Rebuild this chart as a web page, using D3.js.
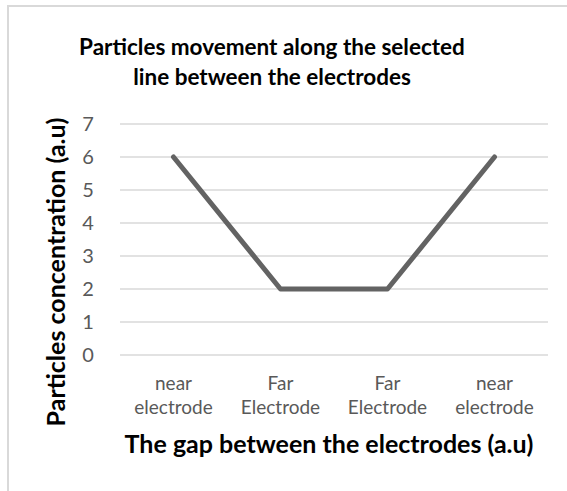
<!DOCTYPE html>
<html>
<head>
<meta charset="utf-8">
<script src="https://cdnjs.cloudflare.com/ajax/libs/d3/7.8.5/d3.min.js"></script>
<style>
  body { margin: 0; background: #fff; }
  text { font-family: Lato, "Open Sans", sans-serif; }
</style>
</head>
<body>
<div id="chart"></div>
<script>
const width = 567, height = 491;

// data
const categories = [["near", "electrode"], ["Far", "Electrode"], ["Far", "Electrode"], ["near", "electrode"]];
const values = [6, 2, 2, 6];
const yTicks = [0, 1, 2, 3, 4, 5, 6, 7];
const titleLines = ["Particles movement along the selected", "line between the electrodes"];
const xTitle = "The gap between the electrodes (a.u)";
const yTitle = "Particles concentration  (a.u)";

const svg = d3.select("#chart").append("svg")
    .attr("width", width).attr("height", height);

// outer chart border (runs off the right and bottom edge)
svg.append("rect")
    .attr("x", 8).attr("y", 6)
    .attr("width", 600).attr("height", 600)
    .attr("fill", "#fff")
    .attr("stroke", "#d9d9d9")
    .attr("stroke-width", 2);

const plot = { left: 120, right: 548, top: 124, bottom: 355 };

const x = d3.scalePoint()
    .domain(d3.range(values.length))
    .range([plot.left, plot.right])
    .padding(0.5);

const y = d3.scaleLinear().domain([0, 7]).range([plot.bottom, plot.top]);

// gridlines
svg.append("g")
    .selectAll("line")
    .data(yTicks)
    .enter().append("line")
    .attr("x1", plot.left).attr("x2", plot.right)
    .attr("y1", d => y(d)).attr("y2", d => y(d))
    .attr("stroke", "#d9d9d9")
    .attr("stroke-width", 1.5);

// y tick labels
svg.append("g")
    .selectAll("text")
    .data(yTicks)
    .enter().append("text")
    .attr("x", 88)
    .attr("y", d => y(d))
    .attr("dy", "0.36em")
    .attr("text-anchor", "middle")
    .attr("fill", "#595959")
    .style("font-size", "20px")
    .text(d => d);

// category labels
const cat = svg.append("g")
    .selectAll("text")
    .data(categories)
    .enter().append("text")
    .attr("text-anchor", "middle")
    .attr("fill", "#595959")
    .style("font-size", "19px");

cat.append("tspan")
    .attr("x", (d, i) => x(i))
    .attr("y", 390)
    .text(d => d[0]);
cat.append("tspan")
    .attr("x", (d, i) => x(i))
    .attr("y", 414)
    .text(d => d[1]);

// the line
const line = d3.line()
    .x((d, i) => x(i))
    .y(d => y(d));

svg.append("path")
    .datum(values)
    .attr("d", line)
    .attr("fill", "none")
    .attr("stroke", "#636363")
    .attr("stroke-width", 5)
    .attr("stroke-linecap", "round")
    .attr("stroke-linejoin", "round");

// chart title
svg.append("g")
    .selectAll("text")
    .data(titleLines)
    .enter().append("text")
    .attr("x", 272)
    .attr("y", (d, i) => 55 + i * 30)
    .attr("text-anchor", "middle")
    .attr("fill", "#000")
    .style("font-size", "22.5px")
    .style("font-weight", "bold")
    .text(d => d);

// axis titles
svg.append("text")
    .attr("x", 329).attr("y", 453)
    .attr("text-anchor", "middle")
    .attr("fill", "#000")
    .style("font-size", "25px")
    .style("font-weight", "bold")
    .text(xTitle);

svg.append("text")
    .attr("transform", "translate(65, 272) rotate(-90)")
    .attr("text-anchor", "middle")
    .attr("fill", "#000")
    .style("font-size", "25px")
    .style("font-weight", "bold")
    .text(yTitle);
</script>
</body>
</html>
